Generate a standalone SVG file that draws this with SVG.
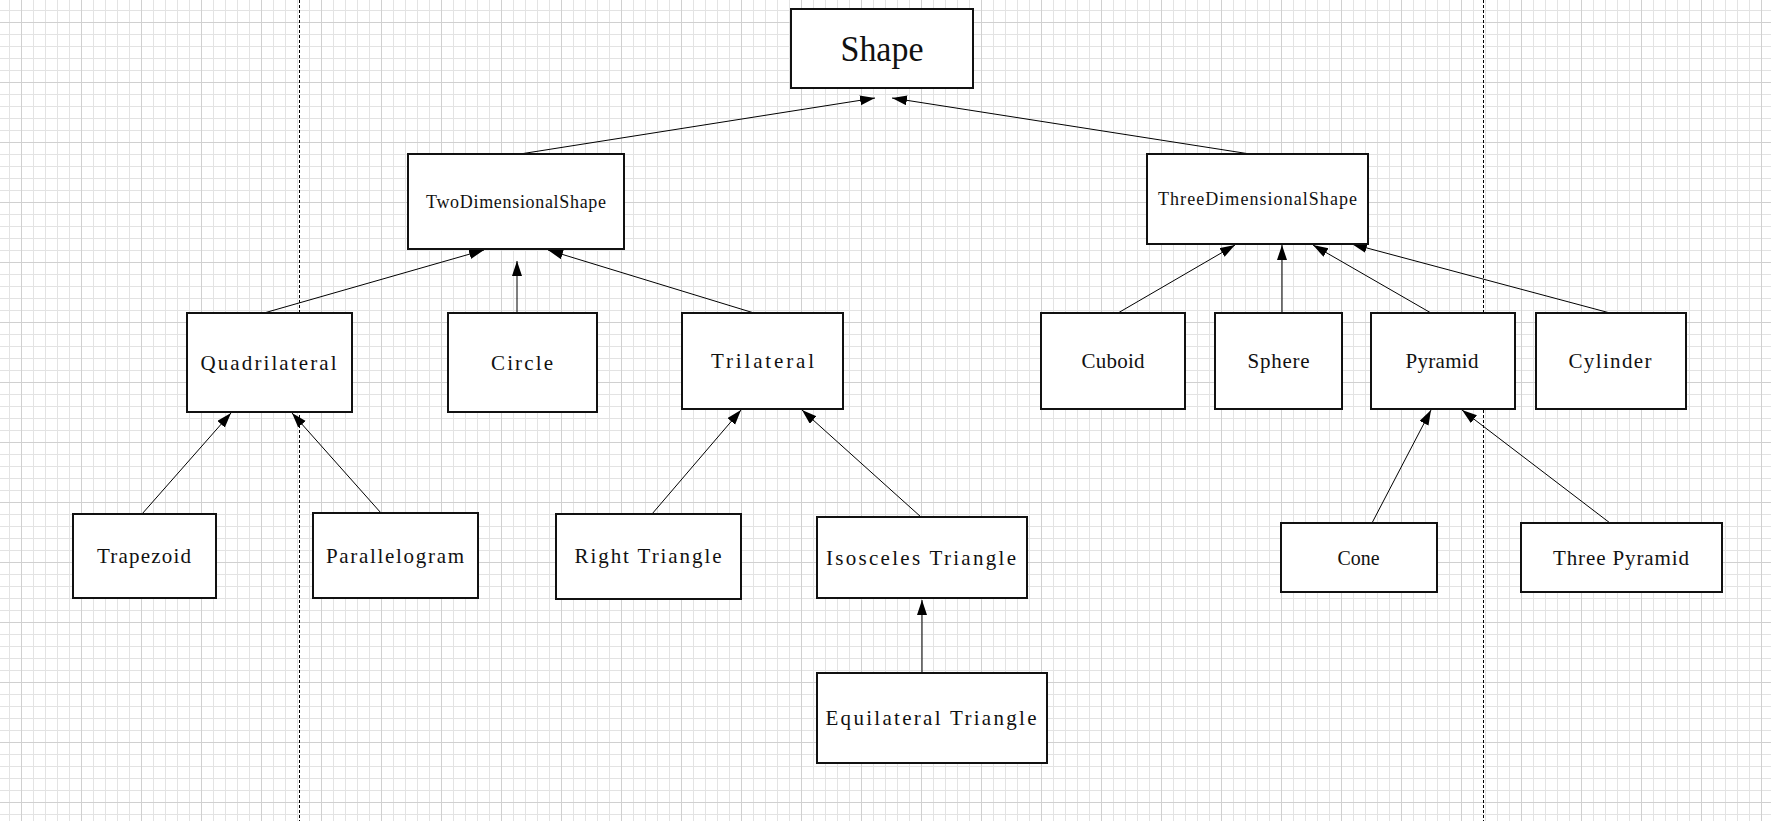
<svg xmlns="http://www.w3.org/2000/svg" width="1771" height="821" viewBox="0 0 1771 821">
<style>
.box{fill:#fff;stroke:#111;stroke-width:2}
.lbl{font-family:"Liberation Serif",serif;font-size:21px;fill:#111;text-anchor:middle;dominant-baseline:central}
.lbl2{font-family:"Liberation Serif",serif;font-size:18px;fill:#111;text-anchor:middle;dominant-baseline:central}
.big{font-family:"Liberation Serif",serif;font-size:36px;fill:#111;text-anchor:middle;dominant-baseline:central}
.edge{stroke:#000;stroke-width:1;fill:none;marker-end:url(#arr)}
.dash{stroke:#000;stroke-width:1;stroke-dasharray:3,2;fill:none}
</style>
<defs>
<pattern id="grid" patternUnits="userSpaceOnUse" x="21" y="22" width="60" height="60">
<path d="M12.5 0V60M24.5 0V60M36.5 0V60M48.5 0V60M0 12.5H60M0 24.5H60M0 36.5H60M0 48.5H60" stroke="#e3e3e3" stroke-width="1"/>
<path d="M0.5 0V60M0 0.5H60" stroke="#d0d0d0" stroke-width="1"/>
</pattern>
<marker id="arr" markerUnits="userSpaceOnUse" markerWidth="16" markerHeight="11" refX="15" refY="5" orient="auto">
<path d="M0,0 L15,5 L0,10 z" fill="#000"/>
</marker>
</defs>
<rect width="1771" height="821" fill="#fff"/>
<rect width="1771" height="821" fill="url(#grid)"/>
<line class="dash" x1="299.5" y1="0" x2="299.5" y2="821"/>
<line class="dash" x1="1483.5" y1="0" x2="1483.5" y2="821"/>
<g id="connectors">
<line class="edge" x1="520" y1="154" x2="875" y2="98"/>
<line class="edge" x1="1250" y1="154" x2="892" y2="98"/>
<line class="edge" x1="264" y1="313" x2="484" y2="250"/>
<line class="edge" x1="517" y1="313" x2="517" y2="261"/>
<line class="edge" x1="754" y1="313" x2="548" y2="250"/>
<line class="edge" x1="1118" y1="313" x2="1235" y2="245"/>
<line class="edge" x1="1282" y1="313" x2="1282" y2="245"/>
<line class="edge" x1="1431" y1="313" x2="1313" y2="245"/>
<line class="edge" x1="1610" y1="313" x2="1352" y2="244"/>
<line class="edge" x1="142" y1="514" x2="231" y2="413"/>
<line class="edge" x1="381" y1="513" x2="292" y2="413"/>
<line class="edge" x1="652" y1="514" x2="741" y2="410"/>
<line class="edge" x1="921" y1="517" x2="802" y2="410"/>
<line class="edge" x1="922" y1="673" x2="922" y2="600"/>
<line class="edge" x1="1372" y1="523" x2="1431" y2="410"/>
<line class="edge" x1="1610" y1="523" x2="1462" y2="410"/>
</g>
<g id="shape"><rect class="box" x="791" y="9" width="182" height="79"/><text class="big" x="882" y="48.5" textLength="83" lengthAdjust="spacingAndGlyphs">Shape</text></g>
<g id="twodim"><rect class="box" x="408" y="154" width="216" height="95"/><text class="lbl2" x="516" y="201.5" textLength="180" lengthAdjust="spacing">TwoDimensionalShape</text></g>
<g id="threedim"><rect class="box" x="1147" y="154" width="221" height="90"/><text class="lbl2" x="1257.5" y="199" textLength="199" lengthAdjust="spacing">ThreeDimensionalShape</text></g>
<g id="quadrilateral"><rect class="box" x="187" y="313" width="165" height="99"/><text class="lbl" x="268.5" y="362.5" textLength="136" lengthAdjust="spacing">Quadrilateral</text></g>
<g id="circle"><rect class="box" x="448" y="313" width="149" height="99"/><text class="lbl" x="522" y="362.5" textLength="62" lengthAdjust="spacing">Circle</text></g>
<g id="trilateral"><rect class="box" x="682" y="313" width="161" height="96"/><text class="lbl" x="762.5" y="361" textLength="103" lengthAdjust="spacing">Trilateral</text></g>
<g id="cuboid"><rect class="box" x="1041" y="313" width="144" height="96"/><text class="lbl" x="1113" y="361" textLength="63" lengthAdjust="spacing">Cuboid</text></g>
<g id="sphere"><rect class="box" x="1215" y="313" width="127" height="96"/><text class="lbl" x="1278.5" y="361" textLength="62" lengthAdjust="spacing">Sphere</text></g>
<g id="pyramid"><rect class="box" x="1371" y="313" width="144" height="96"/><text class="lbl" x="1442" y="361" textLength="73" lengthAdjust="spacing">Pyramid</text></g>
<g id="cylinder"><rect class="box" x="1536" y="313" width="150" height="96"/><text class="lbl" x="1610" y="361" textLength="83" lengthAdjust="spacing">Cylinder</text></g>
<g id="trapezoid"><rect class="box" x="73" y="514" width="143" height="84"/><text class="lbl" x="144" y="556" textLength="94" lengthAdjust="spacing">Trapezoid</text></g>
<g id="parallelogram"><rect class="box" x="313" y="513" width="165" height="85"/><text class="lbl" x="395" y="555.5" textLength="138" lengthAdjust="spacing">Parallelogram</text></g>
<g id="righttriangle"><rect class="box" x="556" y="514" width="185" height="85"/><text class="lbl" x="648" y="556" textLength="147" lengthAdjust="spacing">Right Triangle</text></g>
<g id="isosceles"><rect class="box" x="817" y="517" width="210" height="81"/><text class="lbl" x="921" y="557.5" textLength="190" lengthAdjust="spacing">Isosceles Triangle</text></g>
<g id="equilateral"><rect class="box" x="817" y="673" width="230" height="90"/><text class="lbl" x="931" y="718" textLength="211" lengthAdjust="spacing">Equilateral Triangle</text></g>
<g id="cone"><rect class="box" x="1281" y="523" width="156" height="69"/><text class="lbl" x="1358.5" y="557.5" textLength="42" lengthAdjust="spacingAndGlyphs">Cone</text></g>
<g id="threepyramid"><rect class="box" x="1521" y="523" width="201" height="69"/><text class="lbl" x="1621" y="557.5" textLength="136" lengthAdjust="spacing">Three Pyramid</text></g>
</svg>
